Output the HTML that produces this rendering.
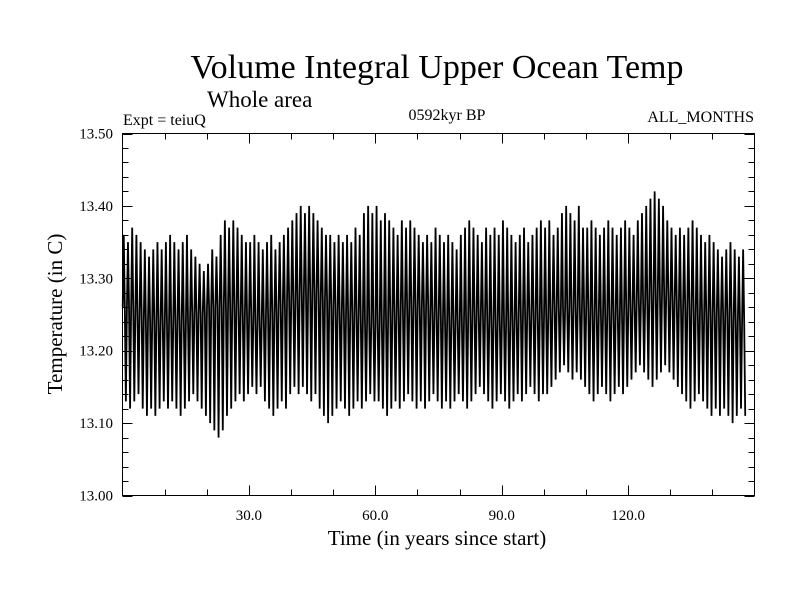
<!DOCTYPE html>
<html><head><meta charset="utf-8"><style>
body{margin:0;background:#fff;}
svg{display:block;font-family:"Liberation Serif",serif;}
</style></head><body>
<svg id="chart" width="800" height="600">
<text x="437" y="78" font-size="34" text-anchor="middle">Volume Integral Upper Ocean Temp</text>
<text x="207" y="107" font-size="23">Whole area</text>
<text x="123" y="125" font-size="16">Expt = teiuQ</text>
<text x="447" y="120" font-size="16" text-anchor="middle">0592kyr BP</text>
<text x="754" y="122" font-size="16" text-anchor="end">ALL_MONTHS</text>
<text transform="translate(62,314) rotate(-90)" font-size="21" text-anchor="middle">Temperature (in C)</text>
<text x="437" y="545" font-size="21" text-anchor="middle">Time (in years since start)</text>
<g id="axes"></g>
<g id="series"></g>
<rect x="122.5" y="133.5" width="632" height="362" fill="none" stroke="#000" stroke-width="1"/>
</svg>
<script>
const yearMax=[.36,.35,.37,.36,.35,.34,.33,.34,.35,.34,.35,.36,.35,.34,.35,.36,.34,.33,.32,.31,.32,.34,.33,.36,.38,.37,.38,.37,.36,.35,.35,.36,.35,.34,.35,.36,.34,.35,.36,.37,.38,.39,.40,.39,.40,.39,.38,.37,.36,.36,.35,.36,.35,.36,.35,.37,.36,.39,.40,.39,.40,.38,.39,.38,.37,.36,.38,.37,.38,.37,.36,.35,.36,.35,.37,.36,.35,.36,.35,.34,.36,.37,.38,.37,.36,.35,.37,.36,.37,.36,.38,.37,.36,.35,.36,.37,.35,.36,.37,.38,.37,.38,.36,.37,.39,.40,.39,.38,.40,.37,.37,.38,.37,.36,.37,.38,.37,.36,.37,.38,.37,.36,.38,.39,.40,.41,.42,.41,.40,.38,.37,.36,.37,.36,.37,.38,.37,.36,.35,.36,.35,.34,.33,.34,.35,.34,.33,.34,.35,.34];
const yearMin=[.13,.12,.13,.14,.12,.11,.12,.11,.12,.13,.12,.13,.12,.11,.12,.13,.14,.13,.12,.11,.10,.09,.08,.09,.11,.12,.13,.14,.13,.14,.15,.14,.15,.13,.12,.11,.12,.13,.12,.14,.15,.14,.15,.14,.13,.14,.12,.11,.10,.11,.12,.13,.12,.11,.12,.13,.12,.13,.14,.13,.13,.12,.11,.12,.13,.12,.13,.14,.13,.12,.13,.12,.13,.14,.13,.12,.13,.12,.13,.14,.13,.12,.13,.14,.15,.14,.13,.12,.13,.14,.13,.12,.13,.14,.13,.14,.15,.14,.13,.14,.14,.15,.16,.17,.18,.17,.16,.17,.16,.15,.14,.13,.14,.15,.14,.13,.14,.15,.14,.15,.16,.17,.18,.17,.16,.15,.16,.17,.18,.17,.16,.15,.14,.13,.12,.13,.14,.13,.12,.11,.12,.11,.12,.11,.10,.11,.12,.11,.10,.11];
const yearMid=[.26,.26,.26,.25,.25,.24,.24,.24,.24,.24,.24,.24,.24,.24,.24,.24,.25,.25,.25,.25,.26,.26,.26,.26,.26,.26,.26,.26,.25,.25,.25,.24,.24,.24,.25,.25,.25,.26,.26,.27,.27,.27,.28,.28,.28,.28,.28,.27,.27,.26,.26,.25,.25,.25,.25,.25,.25,.24,.24,.24,.24,.24,.24,.25,.25,.25,.26,.26,.26,.26,.26,.26,.26,.25,.25,.25,.24,.24,.24,.24,.24,.24,.25,.25,.25,.25,.25,.24,.24,.24,.24,.24,.24,.24,.25,.25,.25,.25,.25,.25,.25,.25,.26,.26,.26,.26,.26,.26,.26,.26,.26,.25,.25,.25,.25,.25,.25,.25,.25,.26,.26,.26,.27,.27,.27,.28,.28,.28,.28,.28,.27,.27,.26,.26,.26,.26,.25,.25,.25,.25,.25,.25,.25,.25,.25,.24,.24,.24];
const yTicks=[13.0,13.1,13.2,13.3,13.4,13.5];
const yTickLabels=["13.00","13.10","13.20","13.30","13.40","13.50"];
const xTicks=[30,60,90,120];
const xTickLabels=["30.0","60.0","90.0","120.0"];
const X0=122.5,X1=754.5,Y0=495.5,Y1=133.5;
const xs=v=>X0+(v-0)/150*(X1-X0);
const ys=v=>Y0-(v-13.0)/0.5*(Y0-Y1);
const NS="http://www.w3.org/2000/svg";
const axes=document.getElementById('axes'),series=document.getElementById('series');
function ln(x1,y1,x2,y2,name){const l=document.createElementNS(NS,'line');l.setAttribute('x1',x1);l.setAttribute('y1',y1);l.setAttribute('x2',x2);l.setAttribute('y2',y2);l.setAttribute('stroke','#000');


axes.appendChild(l);}
for(let v=13.0;v<=13.5001;v+=0.02){const y=Math.round(ys(v))+0.5;const maj=Math.abs(v*10-Math.round(v*10))<1e-6;const L=maj?10:6;ln(X0,y,X0+L,y,'y-tick');ln(X1,y,X1-L,y,'y-tick');}
for(let v=10;v<150;v+=10){const x=Math.round(xs(v))+0.5;const maj=v%30===0;const L=maj?10:6;ln(x,Y0,x,Y0-L,'x-tick');ln(x,Y1,x,Y1+L,'x-tick');}
yTicks.forEach((v,i)=>{const t=document.createElementNS(NS,'text');t.setAttribute('x',113);t.setAttribute('y',ys(v)+5);t.setAttribute('text-anchor','end');t.setAttribute('font-size','15');t.textContent=yTickLabels[i];


axes.appendChild(t);});
xTicks.forEach((v,i)=>{const t=document.createElementNS(NS,'text');t.setAttribute('x',xs(v));t.setAttribute('y',520);t.setAttribute('text-anchor','middle');t.setAttribute('font-size','15');t.textContent=xTickLabels[i];


axes.appendChild(t);});
let pts=[];
for(let i=0;i<yearMax.length;i++){
pts.push(xs(i+0.05).toFixed(2)+','+ys(13+yearMid[i]).toFixed(2));
pts.push(xs(i+0.3).toFixed(2)+','+ys(13+yearMax[i]).toFixed(2));
pts.push(xs(i+0.55).toFixed(2)+','+ys(13+yearMid[i]).toFixed(2));
pts.push(xs(i+0.8).toFixed(2)+','+ys(13+yearMin[i]).toFixed(2));}
const pl=document.createElementNS(NS,'polyline');pl.setAttribute('points',pts.join(' '));pl.setAttribute('fill','none');pl.setAttribute('stroke','#000');pl.setAttribute('stroke-width','1.8');


series.appendChild(pl);
</script>
</body></html>
